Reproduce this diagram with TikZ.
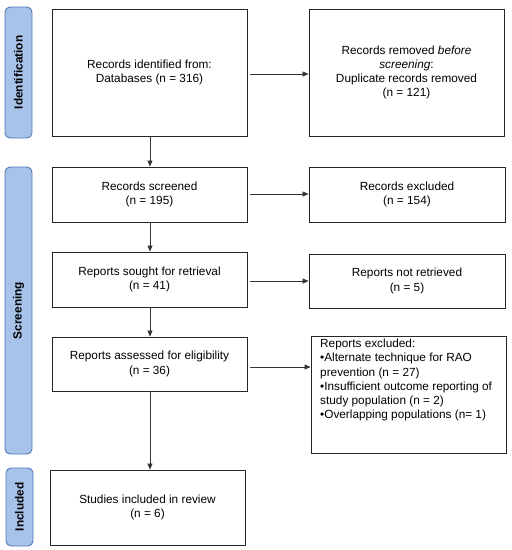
\documentclass[tikz,border=0pt]{standalone}
\usepackage{fontspec}
\setmainfont{Liberation Sans}
\usetikzlibrary{arrows.meta}
\definecolor{labfill}{HTML}{A7C3EA}
\definecolor{labdraw}{HTML}{5079B8}
\definecolor{linecol}{HTML}{333333}
\begin{document}
\begin{tikzpicture}[x=1pt,y=-1pt,
  txt/.style={font=\fontsize{11.8}{14.2}\selectfont},
  flowbox/.style={draw=black!85, line width=0.9pt, fill=white, inner sep=0pt, align=center, txt},
  phase/.style={draw=labdraw, line width=0.9pt, fill=labfill, rounded corners=5pt, inner sep=0pt,
     font=\bfseries\fontsize{11.8}{14}\selectfont, rotate=90},
  arr/.style={draw=linecol, line width=0.6pt, -{Triangle[length=6pt,width=5pt]}}
]
\useasboundingbox (0,0) rectangle (512,550);
% phase labels (rotated: min width = vertical extent)
\node[phase, minimum width=131pt, minimum height=27pt] (idl) at (18.5,72.5) {Identification};
\node[phase, minimum width=287pt, minimum height=27pt] (scl) at (18.5,310.5) {Screening};
\node[phase, minimum width=78pt, minimum height=27pt] (inl) at (19.5,507) {Included};
% left column
\node[flowbox, minimum width=195pt, minimum height=127pt] (ident) at (149.5,72.5) {Records identified from:\\Databases (n = 316)};
\node[flowbox, minimum width=195pt, minimum height=55pt] (screen) at (149.5,194.5) {Records screened\\(n = 195)};
\node[flowbox, minimum width=195pt, minimum height=55pt] (sought) at (149.5,279.5) {Reports sought for retrieval\\(n = 41)};
\node[flowbox, minimum width=195pt, minimum height=54pt] (assess) at (149.5,364) {Reports assessed for eligibility\\(n = 36)};
\node[flowbox, minimum width=195pt, minimum height=75pt] (incl) at (147.5,507.5) {Studies included in review\\(n = 6)};
% right column
\node[flowbox, minimum width=195pt, minimum height=127pt] (dup) at (406.5,72.5) {Records removed \textit{before}\\\textit{screening}:\\Duplicate records removed\\(n = 121)};
\node[flowbox, minimum width=196pt, minimum height=55pt] (excl) at (407,194.5) {Records excluded\\(n = 154)};
\node[flowbox, minimum width=196pt, minimum height=54pt] (notret) at (407,281) {Reports not retrieved\\(n = 5)};
\node[flowbox, minimum width=195pt, minimum height=117pt] (rexcl) at (408.5,394.5) {};
\node[txt, anchor=north west, align=left, inner sep=0pt] (rexcltxt) at (320,339) {Reports excluded:\\\textbullet Alternate technique for RAO\\prevention (n = 27)\\\textbullet Insufficient outcome reporting of\\study population (n = 2)\\\textbullet Overlapping populations (n= 1)};
% connectors
\draw[arr] (ident.south -| 150,0) -- (screen.north -| 150,0);
\draw[arr] (screen.south -| 150,0) -- (sought.north -| 150,0);
\draw[arr] (sought.south -| 150,0) -- (assess.north -| 150,0);
\draw[arr] (assess.south -| 150,0) -- (incl.north -| 150,0);
\draw[arr] ([xshift=3pt]ident.east |- 0,74) -- (dup.west |- 0,74);
\draw[arr] ([xshift=3pt]screen.east |- 0,194) -- (excl.west |- 0,194);
\draw[arr] ([xshift=3pt]sought.east |- 0,281) -- (notret.west |- 0,281);
\draw[arr] ([xshift=3pt]assess.east |- 0,367) -- (rexcl.west |- 0,367);
\end{tikzpicture}
\end{document}
